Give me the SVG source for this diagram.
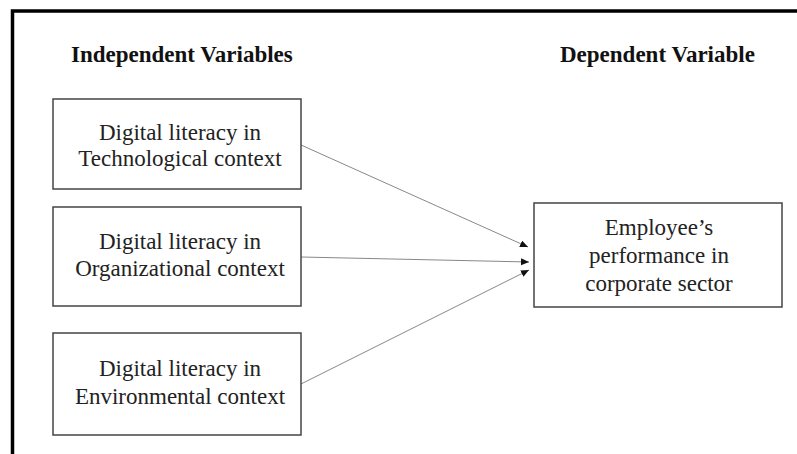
<svg xmlns="http://www.w3.org/2000/svg" width="797" height="454" viewBox="0 0 797 454">
<style>
.box{fill:#fff;stroke:#444;stroke-width:1.5}
.t{font-family:"Liberation Serif","Times New Roman",serif;font-size:23px;fill:#222;text-anchor:middle}
.h{font-family:"Liberation Serif","Times New Roman",serif;font-size:23px;font-weight:bold;fill:#111}
.c{stroke:#888;stroke-width:1;fill:none;marker-end:url(#ah)}
</style>
<defs>
<marker id="ah" markerUnits="userSpaceOnUse" markerWidth="9" markerHeight="8" refX="8" refY="3.5" orient="auto">
<path d="M0,0 L8,3.5 L0,7 z" fill="#111"/>
</marker>
</defs>
<rect width="797" height="454" fill="#fff"/>
<g id="frame">
<path d="M12.5,454 L12.5,11 L797,11" fill="none" stroke="#000" stroke-width="3.5"/>
</g>
<g id="titles">
<text class="h" x="71" y="62">Independent Variables</text>
<text class="h" x="560" y="62">Dependent Variable</text>
</g>
<g id="connectors">
<line class="c" x1="301" y1="145" x2="528" y2="247"/>
<line class="c" x1="301" y1="257" x2="529" y2="262"/>
<line class="c" x1="301" y1="384" x2="529" y2="270"/>
</g>
<g id="node-tech">
<rect class="box" x="53" y="99" width="248" height="90"/>
<text class="t" x="180" y="140">Digital literacy in</text>
<text class="t" x="180" y="166">Technological context</text>
</g>
<g id="node-org">
<rect class="box" x="53" y="207" width="248" height="99"/>
<text class="t" x="180" y="249">Digital literacy in</text>
<text class="t" x="180" y="276">Organizational context</text>
</g>
<g id="node-env">
<rect class="box" x="53" y="333" width="248" height="102"/>
<text class="t" x="180" y="376">Digital literacy in</text>
<text class="t" x="180" y="404">Environmental context</text>
</g>
<g id="node-perf">
<rect class="box" x="534" y="203" width="248" height="104"/>
<text class="t" x="659" y="235">Employee’s</text>
<text class="t" x="659" y="263">performance in</text>
<text class="t" x="659" y="291">corporate sector</text>
</g>
</svg>
